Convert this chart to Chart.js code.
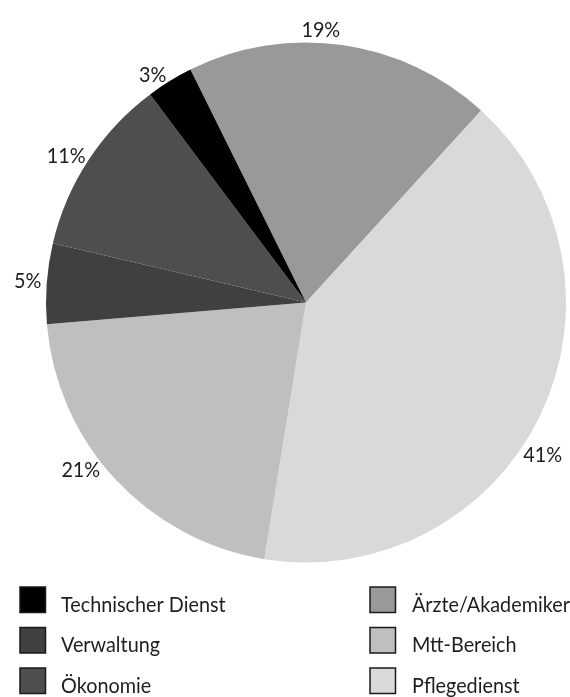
<!DOCTYPE html>
<html>
<head>
<meta charset="utf-8">
<script src="https://cdn.jsdelivr.net/npm/chart.js@4.4.0/dist/chart.umd.min.js"></script>
<style>
  html, body { margin: 0; padding: 0; background: #fff; }
  #wrap { width: 570px; height: 697px; }
</style>
</head>
<body>
<div id="wrap"><canvas id="pieChart" width="570" height="697"></canvas></div>
<script>
//================================================
// DATA (pie order, clockwise from the Ärzte slice)
//================================================
const categories = ['Ärzte/Akademiker', 'Pflegedienst', 'Mtt-Bereich', 'Verwaltung', 'Ökonomie', 'Technischer Dienst'];
const shares = [19.1, 40.8, 21.1, 5.0, 11.1, 2.9];
const sliceColors = ['#999999', '#d9d9d9', '#bfbfbf', '#404040', '#4e4e4e', '#000000'];

// legend is laid out in two columns
const legendColumns = [
    ['Technischer Dienst', 'Verwaltung', 'Ökonomie'],
    ['Ärzte/Akademiker', 'Mtt-Bereich', 'Pflegedienst']
];

// small angle nudges (deg) for the outside labels, like the original
const labelShift = [-5, 8, 5, 0.5, -0.5, -1.7];

const FONT = '22px Lato';
const SQUEEZE = 0.9; // original font is a narrow one
const TEXT_COLOR = '#1e1e1e';

function drawNarrowText(ctx, text, x, y) {
    ctx.save();
    ctx.translate(x, y);
    ctx.scale(SQUEEZE, 1);
    ctx.fillText(text, 0, 0);
    ctx.restore();
}

// ===============================================
// PLUGINS
// ===============================================
const outsideLabels = {
    id: 'outsideLabels',
    afterDatasetsDraw(chart) {
        const ctx = chart.ctx;
        const meta = chart.getDatasetMeta(0);
        ctx.save();
        ctx.font = FONT;
        ctx.fillStyle = TEXT_COLOR;
        ctx.textAlign = 'center';
        ctx.textBaseline = 'alphabetic';
        meta.data.forEach((arc, i) => {
            const text = Math.round(shares[i]) + '%';
            const m = ctx.measureText(text);
            const w = m.width * SQUEEZE;
            const h = m.actualBoundingBoxAscent + m.actualBoundingBoxDescent;
            const mid = (arc.startAngle + arc.endAngle) / 2 + labelShift[i] * Math.PI / 180;
            const c = Math.cos(mid), s = Math.sin(mid);
            const r = arc.outerRadius + 5.5;
            const x = arc.x + c * r + c * w / 2;
            const y = arc.y + s * r + s * h / 2;
            drawNarrowText(ctx, text, x, y + (m.actualBoundingBoxAscent - m.actualBoundingBoxDescent) / 2);
        });
        ctx.restore();
    }
};

const columnLegend = {
    id: 'columnLegend',
    afterDraw(chart) {
        const ctx = chart.ctx;
        const boxX = [20, 370];
        const textX = [61, 412];
        const rowTop = [587, 627.5, 668];
        const size = 25.5;
        ctx.save();
        ctx.font = FONT;
        ctx.textBaseline = 'alphabetic';
        ctx.textAlign = 'left';
        legendColumns.forEach((col, ci) => {
            col.forEach((name, ri) => {
                const idx = categories.indexOf(name);
                ctx.fillStyle = sliceColors[idx];
                ctx.fillRect(boxX[ci], rowTop[ri], size, size);
                ctx.lineWidth = 1.5;
                ctx.strokeStyle = '#1a1a1a';
                ctx.strokeRect(boxX[ci], rowTop[ri], size, size);
                ctx.fillStyle = TEXT_COLOR;
                drawNarrowText(ctx, name, textX[ci], rowTop[ri] + 24.5);
            });
        });
        ctx.restore();
    }
};

// ===============================================
// CHART
// ===============================================
const pieChart = new Chart(document.getElementById('pieChart'), {
    type: 'pie',
    data: {
        labels: categories,
        datasets: [{
            data: shares,
            backgroundColor: sliceColors,
            borderWidth: 0
        }]
    },
    options: {
        responsive: false,
        animation: false,
        rotation: -26.4,
        layout: {
            padding: { left: 46, right: 4, top: 42.5, bottom: 134.5 }
        },
        plugins: {
            legend: { display: false },
            tooltip: { enabled: false }
        }
    },
    plugins: [outsideLabels, columnLegend]
});
</script>
</body>
</html>
